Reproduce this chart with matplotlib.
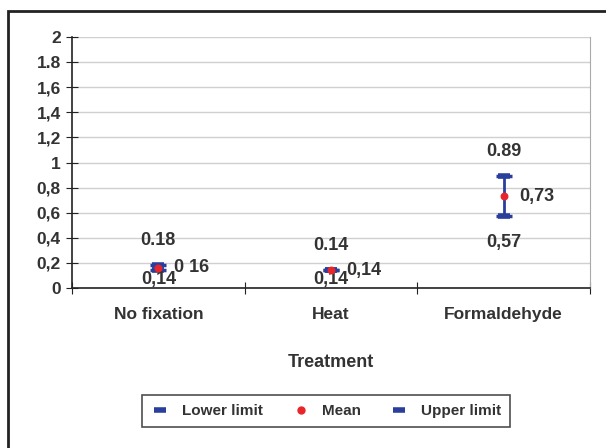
import matplotlib
matplotlib.use("Agg")
import matplotlib.pyplot as plt
from matplotlib.patches import Rectangle
from matplotlib.lines import Line2D

plt.rcParams['font.family'] = ['Liberation Sans', 'DejaVu Sans']

treatments = ['No fixation', 'Heat', 'Formaldehyde']
lower = [0.14, 0.14, 0.57]
mean = [0.16, 0.14, 0.73]
upper = [0.18, 0.14, 0.89]
lower_txt = ['0,14', '0,14', '0,57']
mean_txt = ['0 16', '0,14', '0,73']
upper_txt = ['0.18', '0.14', '0.89']
yticks = [0, 0.2, 0.4, 0.6, 0.8, 1, 1.2, 1.4, 1.6, 1.8, 2]
ytick_txt = ['0', '0,2', '0,4', '0,6', '0,8', '1', '1,2', '1,4', '1,6', '1.8', '2']

blue = '#2a3f9c'
red = '#e8252a'
txtc = '#333333'

fig = plt.figure(figsize=(6.06, 4.48), dpi=100)
fig.patches.append(Rectangle((8 / 606, -0.05), 1.0, 1 - 11 / 448 + 0.05,
                             transform=fig.transFigure, fill=False,
                             edgecolor='#222222', linewidth=2))

ax = fig.add_axes([72 / 606, 1 - 288 / 448, 518 / 606, 251 / 448])
x = list(range(len(treatments)))

ax.set_xlim(-0.5, 2.5)
ax.set_ylim(0, 2)
ax.set_yticks(yticks)
ax.set_yticklabels(ytick_txt, fontsize=12.5, fontweight='bold', color=txtc)
ax.grid(axis='y', color='#d0d0d0', linewidth=1)
ax.set_axisbelow(True)

ax.set_xticks([-0.5, 0.5, 1.5, 2.5], minor=False)
ax.set_xticklabels([])
ax.set_xticks(x, minor=True)
ax.set_xticklabels(treatments, minor=True, fontsize=12.5, fontweight='bold', color=txtc)
ax.tick_params(axis='x', which='minor', length=0, pad=14)
ax.tick_params(axis='x', which='major', direction='inout', length=8, color='#222222')
ax.tick_params(axis='y', direction='inout', length=8, color='#222222', pad=4)

ax.spines['top'].set_visible(False)
ax.spines['right'].set_color('#aaaaaa')
ax.spines['left'].set_color('#222222')
ax.spines['bottom'].set_color('#222222')
ax.spines['left'].set_linewidth(1.2)
ax.spines['bottom'].set_linewidth(1.2)

ax.errorbar(x, mean, yerr=[[m - l for m, l in zip(mean, lower)],
                          [u - m for m, u in zip(mean, upper)]],
            fmt='none', ecolor=blue, elinewidth=2, capsize=6, capthick=2.5)
ax.scatter(x, lower, marker='_', s=80, color=blue, linewidths=4, zorder=3)
ax.scatter(x, upper, marker='_', s=80, color=blue, linewidths=4, zorder=3)
ax.scatter(x, mean, s=22, color=red, zorder=4)

for i in x:
    ax.text(i, upper[i] + 0.2, upper_txt[i], ha='center', va='center',
            fontsize=13, fontweight='bold', color=txtc)
    ax.text(i, max(lower[i] - 0.21, 0.07), lower_txt[i], ha='center', va='center',
            fontsize=13, fontweight='bold', color=txtc)
    ax.annotate(mean_txt[i], (i, mean[i]), xytext=(11, 0), textcoords='offset points',
                ha='left', va='center', fontsize=13, fontweight='bold', color=txtc)

ax.set_xlabel('Treatment', fontsize=13, fontweight='bold', color=txtc, labelpad=23)

handles = [Line2D([], [], color=blue, marker='_', linestyle='none', markersize=9, markeredgewidth=4),
           Line2D([], [], color=red, marker='o', linestyle='none', markersize=5),
           Line2D([], [], color=blue, marker='_', linestyle='none', markersize=9, markeredgewidth=4)]
leg = fig.legend(handles, ['Lower limit', 'Mean', 'Upper limit'], loc='center',
                 bbox_to_anchor=(326 / 606, 1 - 411 / 448), ncol=3, frameon=True,
                 fancybox=False, edgecolor='#222222',
                 prop={'weight': 'bold', 'size': 11}, columnspacing=1.9,
                 handlelength=1.2, borderpad=0.6)
for t in leg.get_texts():
    t.set_color(txtc)
leg.get_frame().set_linewidth(1.2)

fig.savefig('out.png', dpi=100)
